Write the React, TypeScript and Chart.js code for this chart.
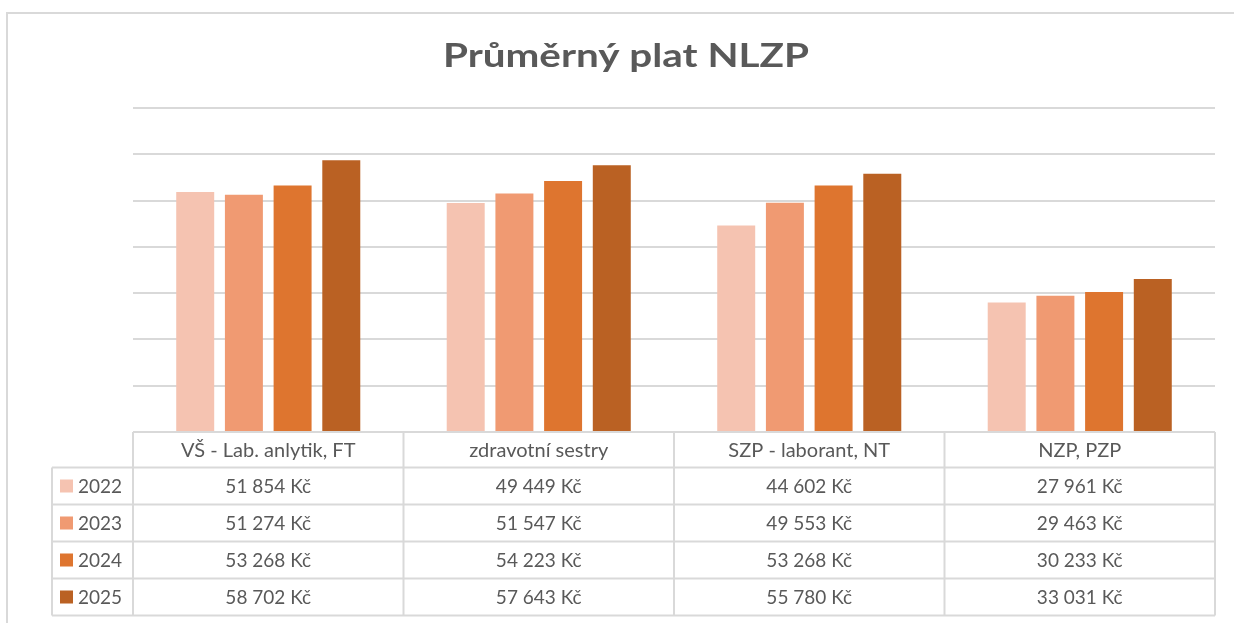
import React, { useEffect, useRef } from "react";
import { Chart, registerables } from "chart.js";

Chart.register(...registerables);

const categories = ["VŠ - Lab. anlytik, FT", "zdravotní sestry", "SZP - laborant, NT", "NZP, PZP"];
const years = ["2022", "2023", "2024", "2025"];
const values2022 = [51854, 49449, 44602, 27961];
const values2023 = [51274, 51547, 49553, 29463];
const values2024 = [53268, 54223, 53268, 30233];
const values2025 = [58702, 57643, 55780, 33031];
const yMax = 70000;
const yStep = 10000;
const title = "Průměrný plat NLZP";
const currency = "Kč";

const colors = ["#F5C3B1", "#F09A72", "#DE752F", "#BA6123"];
const seriesValues = [values2022, values2023, values2024, values2025];

const TEXT = "#595959";
const LINE = "#d9d9d9";
const FONT = "Lato, 'Open Sans', sans-serif";

function fmt(v: number): string {
  const s = String(v);
  return s.replace(/\B(?=(\d{3})+(?!\d))/g, " ") + " " + currency;
}

const tablePlugin = {
  id: "dataTable",
  beforeDraw(chart: any) {
    const ctx = chart.ctx;
    ctx.save();
    ctx.fillStyle = "#ffffff";
    ctx.fillRect(0, 0, chart.width, chart.height);
    ctx.strokeStyle = LINE;
    ctx.lineWidth = 2;
    ctx.strokeRect(7, 13, chart.width + 20, chart.height + 20);
    ctx.restore();
  },
  afterDraw(chart: any) {
    const ctx = chart.ctx;
    const area = chart.chartArea;
    const xs = chart.scales.x;
    const n = categories.length;
    const catW = (area.right - area.left) / n;
    const top = area.bottom;
    const headerH = 35.5;
    const rowH = 37;
    const legendLeft = 52;
    const bottom = top + headerH + rowH * years.length;

    ctx.save();
    // title
    ctx.fillStyle = TEXT;
    ctx.font = `bold 32.5px ${FONT}`;
    ctx.textAlign = "center";
    ctx.textBaseline = "alphabetic";
    const tw = ctx.measureText(title).width;
    const sx = 366 / tw;
    ctx.save();
    ctx.translate(626, 67);
    ctx.scale(sx, 1);
    ctx.fillText(title, 0, 0);
    ctx.restore();

    ctx.strokeStyle = LINE;
    ctx.lineWidth = 2;
    ctx.beginPath();
    ctx.moveTo(area.left, top);
    ctx.lineTo(area.right, top);
    for (let r = 0; r <= years.length; r++) {
      const y = top + headerH + rowH * r;
      ctx.moveTo(legendLeft, y);
      ctx.lineTo(area.right, y);
    }
    for (let c = 0; c <= n; c++) {
      const x = area.left + catW * c;
      ctx.moveTo(x, top);
      ctx.lineTo(x, bottom);
    }
    ctx.moveTo(legendLeft, top + headerH);
    ctx.lineTo(legendLeft, bottom);
    ctx.stroke();

    ctx.fillStyle = TEXT;
    ctx.textAlign = "center";
    ctx.textBaseline = "middle";
    for (let c = 0; c < n; c++) {
      const cx = xs.getPixelForValue(c);
      ctx.font = `20px ${FONT}`;
      ctx.fillText(categories[c], cx, top + headerH / 2 + 1);
      ctx.font = `19px ${FONT}`;
      for (let r = 0; r < years.length; r++) {
        const cy = top + headerH + rowH * r + rowH / 2 + 1;
        ctx.fillText(fmt(seriesValues[r][c]), cx, cy);
      }
    }
    ctx.textAlign = "left";
    ctx.font = `19px ${FONT}`;
    for (let r = 0; r < years.length; r++) {
      const cy = top + headerH + rowH * r + rowH / 2;
      ctx.fillStyle = colors[r];
      ctx.fillRect(60, cy - 6.5, 13, 13);
      ctx.fillStyle = TEXT;
      ctx.fillText(years[r], 78, cy + 1);
    }
    ctx.restore();
  },
};

export default function App() {
  const ref = useRef<HTMLCanvasElement>(null);
  useEffect(() => {
    if (!ref.current) return;
    const chart = new Chart(ref.current, {
      type: "bar",
      data: {
        labels: categories,
        datasets: years.map((y, i) => ({
          label: y,
          data: seriesValues[i],
          backgroundColor: colors[i],
          borderWidth: 0,
          barPercentage: 0.78,
          categoryPercentage: 0.72,
        })),
      },
      options: {
        animation: false,
        responsive: false,
        devicePixelRatio: 1,
        layout: { padding: { left: 133, right: 19, top: 108, bottom: 191 } },
        plugins: { legend: { display: false }, title: { display: false }, tooltip: { enabled: false } },
        scales: {
          x: { display: false },
          y: {
            min: 0,
            max: yMax,
            ticks: { display: false, stepSize: yStep },
            border: { display: false },
            grid: { color: LINE, lineWidth: 2, drawTicks: false },
          },
        },
      },
      plugins: [tablePlugin],
    });
    return () => chart.destroy();
  }, []);
  return (
    <div style={{ position: "fixed", left: 0, top: 0, width: 1234, height: 623 }}>
      <canvas ref={ref} width={1234} height={623} />
    </div>
  );
}
